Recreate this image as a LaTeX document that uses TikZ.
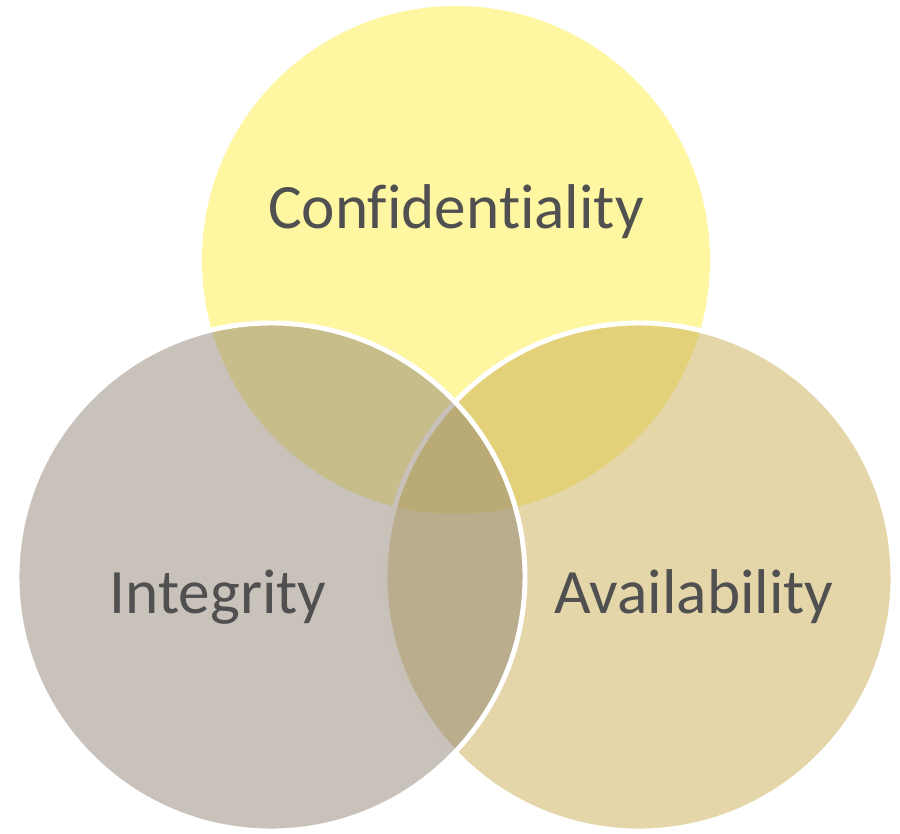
\documentclass[tikz,border=0pt]{standalone}
\usepackage{fontspec}
\setmainfont{Carlito}[Ligatures={NoCommon,NoRare}]
\definecolor{cyellow}{RGB}{254,246,160}
\definecolor{cgray}{RGB}{145,133,117}
\definecolor{ctan}{RGB}{201,173,83}
\definecolor{ctext}{RGB}{80,80,80}
\begin{document}
\begin{tikzpicture}[x=0.02cm,y=-0.02cm,
  lbl/.style={text=ctext,font=\fontsize{36pt}{40pt}\selectfont,anchor=base,inner sep=0pt},
  ring/.style={draw=white,line width=2.8pt}]
\useasboundingbox (0,0) rectangle (900,833);
\coordinate (cC) at (456,260);
\coordinate (cI) at (271,577);
\coordinate (cA) at (639,577);
\fill[cyellow] (cC) circle[radius=254];
\fill[ctan,fill opacity=0.5] (cA) circle[radius=254];
\draw[ring] (cA) circle[radius=254];
\fill[cgray,fill opacity=0.5] (cI) circle[radius=254];
\draw[ring] (cI) circle[radius=254];
\node[lbl] (tC) at (456,228) {Confidentiality};
\node[lbl] (tI) at (218,613) {Integrity};
\node[lbl] (tA) at (694,613) {Availability};
\end{tikzpicture}
\end{document}
